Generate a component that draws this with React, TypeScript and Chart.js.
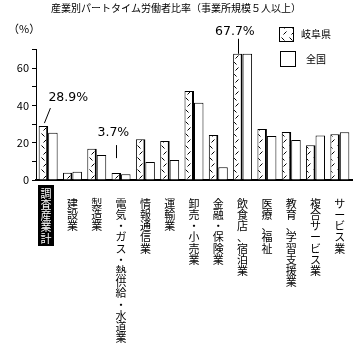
import React, { useEffect, useRef } from 'react';
import { Chart, registerables } from 'chart.js';

Chart.register(...registerables);

const titleText = '産業別パートタイム労働者比率（事業所規模５人以上）';
const unitText = '（%）';
const categories = [
  '調査産業計',
  '建設業',
  '製造業',
  '電気・ガス・熱供給・水道業',
  '情報通信業',
  '運輸業',
  '卸売・小売業',
  '金融・保険業',
  '飲食店、宿泊業',
  '医療、福祉',
  '教育、学習支援業',
  '複合サービス業',
  'サービス業',
];
const seriesNames = ['岐阜県', '全国'];
const gifuValues = [28.9, 3.9, 16.8, 3.7, 21.8, 20.9, 47.7, 24.1, 67.7, 27.3, 25.7, 18.6, 24.6];
const nationalValues = [25.3, 4.4, 13.4, 3.1, 9.6, 10.7, 41.4, 6.8, 67.7, 23.6, 21.4, 23.9, 25.6];
const yMax = 70;
const yStep = 10;
const yLabelStep = 20;
const annotatedIndexes = [0, 3, 8];
const highlightedIndex = 0;

const JP = '"Noto Sans CJK JP", sans-serif';
const LABEL_SIZE = 11;
const LABEL_LINE = 11.2;

function makeHatch(): CanvasPattern | string {
  const c = document.createElement('canvas');
  c.width = 8;
  c.height = 12;
  const g = c.getContext('2d');
  if (!g) return '#fff';
  g.fillStyle = '#fff';
  g.fillRect(0, 0, 8, 12);
  g.strokeStyle = '#000';
  g.lineWidth = 1;
  g.beginPath();
  g.moveTo(1.5, 1.5);
  g.lineTo(4.5, 4.5);
  g.moveTo(6.5, 7.5);
  g.lineTo(3.5, 10.5);
  g.stroke();
  const p = g.createPattern(c, 'repeat');
  return p || '#fff';
}

const overlayPlugin = {
  id: 'overlay',
  afterDraw(chart: any) {
    const { ctx, chartArea } = chart;
    ctx.save();
    ctx.fillStyle = '#000';
    ctx.strokeStyle = '#000';
    ctx.lineWidth = 1;
    ctx.textBaseline = 'middle';

    // unit label
    ctx.font = `11px ${JP}`;
    ctx.textAlign = 'left';
    ctx.fillText(unitText, 8, 29);

    // legend
    const hatch = chart.data.datasets[0].backgroundColor;
    const items = [
      { x: 279, y: 27, size: 14, fill: hatch, text: seriesNames[0], tx: 301, ty: 34 },
      { x: 280, y: 51, size: 15, fill: '#fff', text: seriesNames[1], tx: 306, ty: 59 },
    ];
    ctx.font = `10px ${JP}`;
    items.forEach((it) => {
      ctx.fillStyle = it.fill;
      ctx.fillRect(it.x, it.y, it.size, it.size);
      ctx.strokeRect(it.x + 0.5, it.y + 0.5, it.size, it.size);
      ctx.fillStyle = '#000';
      ctx.fillText(it.text, it.tx, it.ty);
    });

    // highlighted category label (white on black, vertical)
    const xs = chart.scales.x;
    const hx = xs.getPixelForTick(highlightedIndex);
    const chars = Array.from(categories[highlightedIndex]);
    const boxTop = chartArea.bottom + 5;
    const boxH = chars.length * LABEL_LINE + 5;
    ctx.fillStyle = '#000';
    ctx.fillRect(Math.round(hx) - 10, boxTop, 16, boxH);
    ctx.fillStyle = '#fff';
    ctx.font = `${LABEL_SIZE}px ${JP}`;
    ctx.textAlign = 'center';
    chars.forEach((ch, k) => {
      ctx.fillText(ch, Math.round(hx) - 2, boxTop + 3 + LABEL_LINE * (k + 0.5));
    });

    // annotations
    const meta = chart.getDatasetMeta(0);
    ctx.fillStyle = '#000';
    ctx.font = '12.5px "DejaVu Sans", sans-serif';
    annotatedIndexes.forEach((i) => {
      const bar = meta.data[i];
      if (!bar) return;
      const text = `${gifuValues[i]}%`;
      const bx = bar.x;
      const by = bar.y;
      ctx.beginPath();
      if (i === 0) {
        ctx.moveTo(bx + 1, by - 3);
        ctx.lineTo(bx + 7, by - 18);
        ctx.stroke();
        ctx.textAlign = 'left';
        ctx.fillText(text, bx + 5, by - 28);
      } else if (i === 3) {
        ctx.moveTo(Math.round(bx) + 0.5, by - 28);
        ctx.lineTo(Math.round(bx) + 0.5, by - 15);
        ctx.stroke();
        ctx.textAlign = 'center';
        ctx.fillText(text, bx - 3, by - 40);
      } else {
        ctx.moveTo(Math.round(bx) + 0.5, by - 15);
        ctx.lineTo(Math.round(bx) + 0.5, by);
        ctx.stroke();
        ctx.textAlign = 'center';
        ctx.fillText(text, bx - 3, by - 22);
      }
    });
    ctx.restore();
  },
};

export default function App() {
  const ref = useRef<HTMLCanvasElement>(null);
  useEffect(() => {
    if (!ref.current) return;
    const hatch = makeHatch();
    const chart = new Chart(ref.current, {
      type: 'bar',
      data: {
        labels: categories.map((c) => Array.from(c)),
        datasets: [
          {
            label: seriesNames[0],
            data: gifuValues,
            backgroundColor: hatch as any,
            borderColor: '#000',
            borderWidth: { left: 1, top: 1, right: 2, bottom: 0 } as any,
            borderSkipped: false,
            categoryPercentage: 0.78,
            barPercentage: 1.0,
          },
          {
            label: seriesNames[1],
            data: nationalValues,
            backgroundColor: '#fff',
            borderColor: '#000',
            borderWidth: { left: 1, top: 1, right: 1, bottom: 0 } as any,
            borderSkipped: false,
            categoryPercentage: 0.78,
            barPercentage: 1.0,
          },
        ],
      },
      options: {
        animation: false,
        responsive: true,
        maintainAspectRatio: false,
        layout: { padding: { left: 0, right: 9, top: 0, bottom: 0 } },
        plugins: {
          legend: { display: false },
          tooltip: { enabled: false },
          title: {
            display: true,
            text: titleText,
            color: '#000',
            font: { family: JP, size: 10, weight: 'normal' },
            padding: { top: 2, bottom: 35.5 },
          },
        },
        scales: {
          x: {
            afterFit: (s: any) => {
              s.height = 180;
            },
            grid: { display: false },
            border: { display: true, color: '#000', width: 2 },
            ticks: {
              autoSkip: false,
              maxRotation: 0,
              minRotation: 0,
              padding: 10,
              font: { family: JP, size: LABEL_SIZE, lineHeight: LABEL_LINE / LABEL_SIZE },
              color: '#000',
              callback: (_v: any, i: number) =>
                i === highlightedIndex ? '' : Array.from(categories[i]),
            },
          },
          y: {
            min: 0,
            max: yMax,
            afterFit: (s: any) => {
              s.width = 36;
            },
            grid: { display: true, drawOnChartArea: false, drawTicks: true, tickLength: 4, color: '#000' },
            border: { display: true, color: '#000', width: 1 },
            ticks: {
              stepSize: yStep,
              padding: 3,
              color: '#000',
              font: { family: JP, size: 11 },
              callback: (v: any) => (Number(v) % yLabelStep === 0 ? String(v) : ''),
            },
          },
        },
      },
      plugins: [overlayPlugin],
    });
    return () => chart.destroy();
  }, []);
  return (
    <div style={{ position: 'fixed', left: 0, top: 0, width: 361, height: 360, background: '#fff' }}>
      <canvas ref={ref} />
    </div>
  );
}
